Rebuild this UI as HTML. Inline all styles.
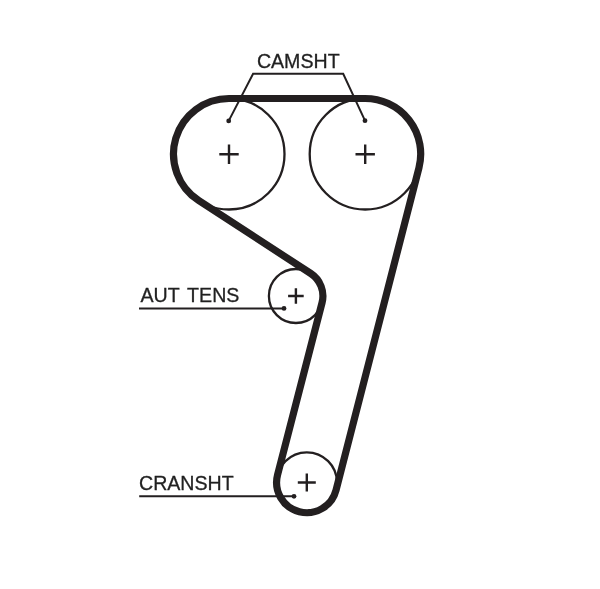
<!DOCTYPE html>
<html><head><meta charset="utf-8"><style>
html,body{margin:0;padding:0;background:#fff;}
body{width:600px;height:589px;overflow:hidden;position:relative;}
svg{position:absolute;left:0;top:0;}
.t{filter:grayscale(1);}
text{font-family:"Liberation Sans",sans-serif;fill:#231f20;stroke:#231f20;stroke-width:0.3px;}
</style></head><body>
<svg width="600" height="589" viewBox="0 0 600 589">
<g fill="none" stroke="#231f20" stroke-width="2.3">
<circle cx="229" cy="154" r="55.5"/>
<circle cx="365.2" cy="154" r="55.5"/>
<circle cx="295.9" cy="296" r="27"/>
<circle cx="306.8" cy="482.5" r="30.2"/>
</g>
<path d="M198.72 200.51 A55.5 55.5 0 0 1 229.00 98.50 L365.20 98.50 A55.5 55.5 0 0 1 418.95 167.83 L336.05 490.03 A30.2 30.2 0 1 1 277.56 474.95 L322.04 302.75 A27 27 0 0 0 310.63 273.37 L198.72 200.51 Z" fill="none" stroke="#231f20" stroke-width="7.2" stroke-linejoin="round"/>
<path d="M219.3 154.3H238.7M229 144.60000000000002V164.0" stroke="#231f20" stroke-width="2.4" fill="none"/>
<path d="M355.5 154.3H374.9M365.2 144.60000000000002V164.0" stroke="#231f20" stroke-width="2.4" fill="none"/>
<path d="M288.09999999999997 296H303.7M295.9 288.2V303.8" stroke="#231f20" stroke-width="2.4" fill="none"/>
<path d="M297.8 482.5H315.8M306.8 473.5V491.5" stroke="#231f20" stroke-width="2.4" fill="none"/>
<g fill="none" stroke="#231f20" stroke-width="2">
<path d="M228.7 120.9L253.1 73.8H343.2L365 120.7"/>
<path d="M139 308.4H284"/>
<path d="M139.2 496.3H294"/>
</g>
<g fill="#231f20">
<circle cx="228.7" cy="120.9" r="2.4"/>
<circle cx="365" cy="120.7" r="2.4"/>
<circle cx="284" cy="308.4" r="2.4"/>
<circle cx="294" cy="496.3" r="2.4"/>
</g>
<g class="t">
<text x="256.9" y="67.8" font-size="19.6">CAMSHT</text>
<text x="140.5" y="302.4" font-size="19.6" word-spacing="2.7">AUT TENS</text>
<text x="139" y="490" font-size="19.6">CRANSHT</text>
</g>
</svg>
</body></html>
